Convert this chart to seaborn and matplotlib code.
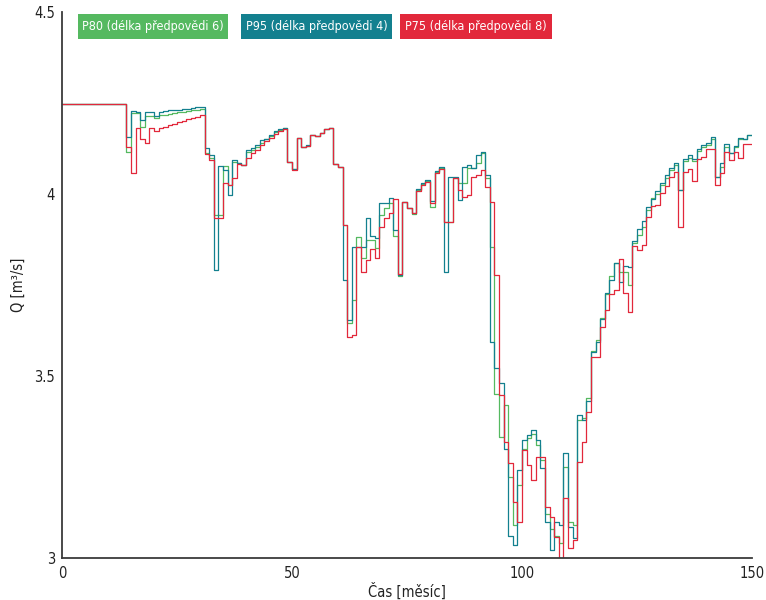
import numpy as np
import pandas as pd
import matplotlib
matplotlib.use("Agg")
import matplotlib.pyplot as plt
import matplotlib.font_manager as fm
from matplotlib.patches import Rectangle
import seaborn as sns

# ---------------- data (monthly values, month 0..149) ----------------
months = list(range(150))

p95_d4 = [4.248] * 14 + [
    4.157, 4.228, 4.225, 4.203, 4.226, 4.224, 4.215, 4.226, 4.229, 4.230,
    4.231, 4.232, 4.233, 4.234, 4.236, 4.238, 4.240, 4.126, 4.107, 3.791,
    4.077, 4.065, 3.997, 4.093, 4.085, 4.080, 4.121, 4.126, 4.135, 4.148,
    4.152, 4.162, 4.173, 4.178, 4.182, 4.088, 4.069, 4.154, 4.129, 4.135,
    4.162, 4.159, 4.168, 4.178, 4.181, 4.082, 4.074, 3.764, 3.654, 3.854,
    3.854, 3.854, 3.934, 3.885, 3.879, 3.975, 3.975, 3.989, 3.901, 3.777,
    3.978, 3.962, 3.948, 4.015, 4.030, 4.038, 3.980, 4.063, 4.074, 3.786,
    4.047, 4.047, 3.984, 4.074, 4.080, 4.072, 4.107, 4.115, 4.052, 3.593,
    3.522, 3.481, 3.300, 3.060, 3.035, 3.242, 3.324, 3.338, 3.352, 3.324,
    3.247, 3.099, 3.022, 3.100, 3.090, 3.288, 3.085, 3.055, 3.393, 3.379,
    3.430, 3.567, 3.594, 3.656, 3.727, 3.764, 3.810, 3.758, 3.803, 3.800,
    3.872, 3.904, 3.925, 3.963, 3.987, 4.009, 4.031, 4.052, 4.071, 4.086,
    4.011, 4.096, 4.107, 4.096, 4.124, 4.135, 4.139, 4.156, 4.048, 4.084,
    4.136, 4.112, 4.133, 4.153, 4.151, 4.162,
]

p80_d6 = [4.248] * 14 + [
    4.115, 4.222, 4.222, 4.184, 4.214, 4.214, 4.209, 4.217, 4.218, 4.220,
    4.222, 4.224, 4.226, 4.228, 4.230, 4.232, 4.234, 4.113, 4.100, 3.942,
    3.942, 4.077, 4.025, 4.088, 4.085, 4.080, 4.115, 4.120, 4.130, 4.140,
    4.150, 4.160, 4.170, 4.176, 4.180, 4.088, 4.069, 4.154, 4.129, 4.133,
    4.162, 4.159, 4.168, 4.178, 4.181, 4.082, 4.074, 3.915, 3.646, 3.709,
    3.882, 3.824, 3.874, 3.874, 3.852, 3.942, 3.962, 3.975, 3.885, 3.775,
    3.978, 3.962, 3.945, 4.011, 4.028, 4.036, 3.965, 4.061, 4.072, 3.923,
    3.923, 4.045, 4.030, 4.030, 4.071, 4.072, 4.085, 4.112, 4.044, 3.854,
    3.450, 3.332, 3.420, 3.223, 3.090, 3.200, 3.300, 3.330, 3.340, 3.310,
    3.270, 3.120, 3.080, 3.060, 3.040, 3.250, 3.100, 3.090, 3.380, 3.385,
    3.440, 3.570, 3.600, 3.660, 3.725, 3.775, 3.810, 3.786, 3.787, 3.750,
    3.865, 3.887, 3.910, 3.955, 3.990, 4.000, 4.025, 4.045, 4.066, 4.080,
    4.011, 4.090, 4.100, 4.090, 4.118, 4.130, 4.135, 4.150, 4.048, 4.075,
    4.130, 4.114, 4.130, 4.150, 4.150, 4.162,
]

p75_d8 = [4.248] * 14 + [
    4.130, 4.058, 4.180, 4.150, 4.139, 4.180, 4.173, 4.180, 4.185, 4.190,
    4.193, 4.197, 4.200, 4.205, 4.208, 4.212, 4.216, 4.110, 4.093, 3.934,
    3.934, 4.030, 4.025, 4.044, 4.082, 4.080, 4.099, 4.112, 4.120, 4.135,
    4.145, 4.155, 4.165, 4.172, 4.178, 4.088, 4.066, 4.154, 4.129, 4.132,
    4.162, 4.159, 4.168, 4.178, 4.181, 4.082, 4.074, 3.915, 3.607, 3.613,
    3.854, 3.786, 3.819, 3.849, 3.824, 3.909, 3.934, 3.948, 3.986, 3.780,
    3.978, 3.962, 3.948, 4.008, 4.025, 4.033, 3.975, 4.058, 4.068, 3.923,
    3.923, 4.044, 4.011, 3.992, 3.997, 4.047, 4.052, 4.066, 4.019, 3.978,
    3.777, 3.448, 3.319, 3.260, 3.154, 3.099, 3.297, 3.255, 3.214, 3.277,
    3.277, 3.140, 3.113, 3.058, 2.990, 3.165, 3.027, 3.049, 3.264, 3.319,
    3.400, 3.553, 3.553, 3.635, 3.680, 3.725, 3.735, 3.821, 3.727, 3.677,
    3.857, 3.846, 3.860, 3.938, 3.967, 3.970, 4.004, 4.022, 4.047, 4.061,
    3.909, 4.061, 4.068, 4.036, 4.096, 4.102, 4.125, 4.125, 4.025, 4.057,
    4.116, 4.093, 4.116, 4.098, 4.137, 4.137,
]

series_labels = ["P80 (délka předpovědi 6)", "P95 (délka předpovědi 4)", "P75 (délka předpovědi 8)"]
series_colors = ["#55b960", "#13808f", "#e2283b"]
x_ticks = [0, 50, 100, 150]
y_ticks = [3, 3.5, 4, 4.5]
y_tick_labels = ["3", "3.5", "4", "4.5"]

# ---------------- build long-form table ----------------
frames = []
for lab, vals in zip(series_labels, [p80_d6, p95_d4, p75_d8]):
    x = months + [months[-1] + 1]          # close the last step
    y = list(vals) + [vals[-1]]
    frames.append(pd.DataFrame({"Čas": x, "Q": y, "série": lab}))
df = pd.concat(frames, ignore_index=True)

# ---------------- font choice (narrow font if available) ----------------
sns.set_theme(style="white")
avail = {(f.name, f.stretch) for f in fm.fontManager.ttflist}
names = {n for n, _ in avail}
if "Liberation Sans Narrow" in names:
    plt.rcParams["font.family"] = ["Liberation Sans Narrow", "DejaVu Sans"]
    leg_size, tick_size = 10.5, 11.5
elif ("DejaVu Sans", "condensed") in avail or ("DejaVu Sans", "semi-condensed") in avail:
    plt.rcParams["font.family"] = ["DejaVu Sans"]
    plt.rcParams["font.stretch"] = "condensed"
    leg_size, tick_size = 9.0, 10.5
else:
    plt.rcParams["font.family"] = ["Roboto", "DejaVu Sans"]
    leg_size, tick_size = 8.5, 11

fig = plt.figure(figsize=(7.66, 6.0), dpi=100)
ax = fig.add_axes([62 / 766, 42 / 600, 690 / 766, 546 / 600])

sns.lineplot(data=df, x="Čas", y="Q", hue="série", hue_order=series_labels,
             palette=series_colors, drawstyle="steps-post", linewidth=0.9,
             errorbar=None, sort=True, legend=False, ax=ax)

ax.set_xlim(0, 150)
ax.set_ylim(3, 4.5)
ax.set_xticks(x_ticks)
ax.set_xticklabels([str(t) for t in x_ticks])
ax.set_yticks(y_ticks)
ax.set_yticklabels(y_tick_labels)

for s in ["top", "right"]:
    ax.spines[s].set_visible(False)
for s in ["left", "bottom"]:
    ax.spines[s].set_color("#3a3a3a")
    ax.spines[s].set_linewidth(1.3)

ax.tick_params(axis="both", direction="in", length=8, width=1.0,
               color="#3a3a3a", labelsize=tick_size, labelcolor="#222222")
ax.tick_params(axis="x", pad=6)
ax.tick_params(axis="y", pad=5)

ax.set_xlabel("Čas [měsíc]", fontsize=tick_size, color="#222222", labelpad=1)
ax.set_ylabel("Q [m³/s]", fontsize=tick_size, color="#222222", labelpad=6)

# legend boxes
boxes = [(78, 228), (241, 392), (400, 552)]
for (x0, x1), lab, col in zip(boxes, series_labels, series_colors):
    fig.patches.append(Rectangle((x0 / 766, 1 - 38.5 / 600), (x1 - x0) / 766, 24.5 / 600,
                                 transform=fig.transFigure, facecolor=col,
                                 edgecolor="none", zorder=5))
    fig.text((x0 + x1) / 2 / 766, 1 - 26.5 / 600, lab, color="white",
             fontsize=leg_size, ha="center", va="center", zorder=6)

fig.savefig("out.png", dpi=100)
